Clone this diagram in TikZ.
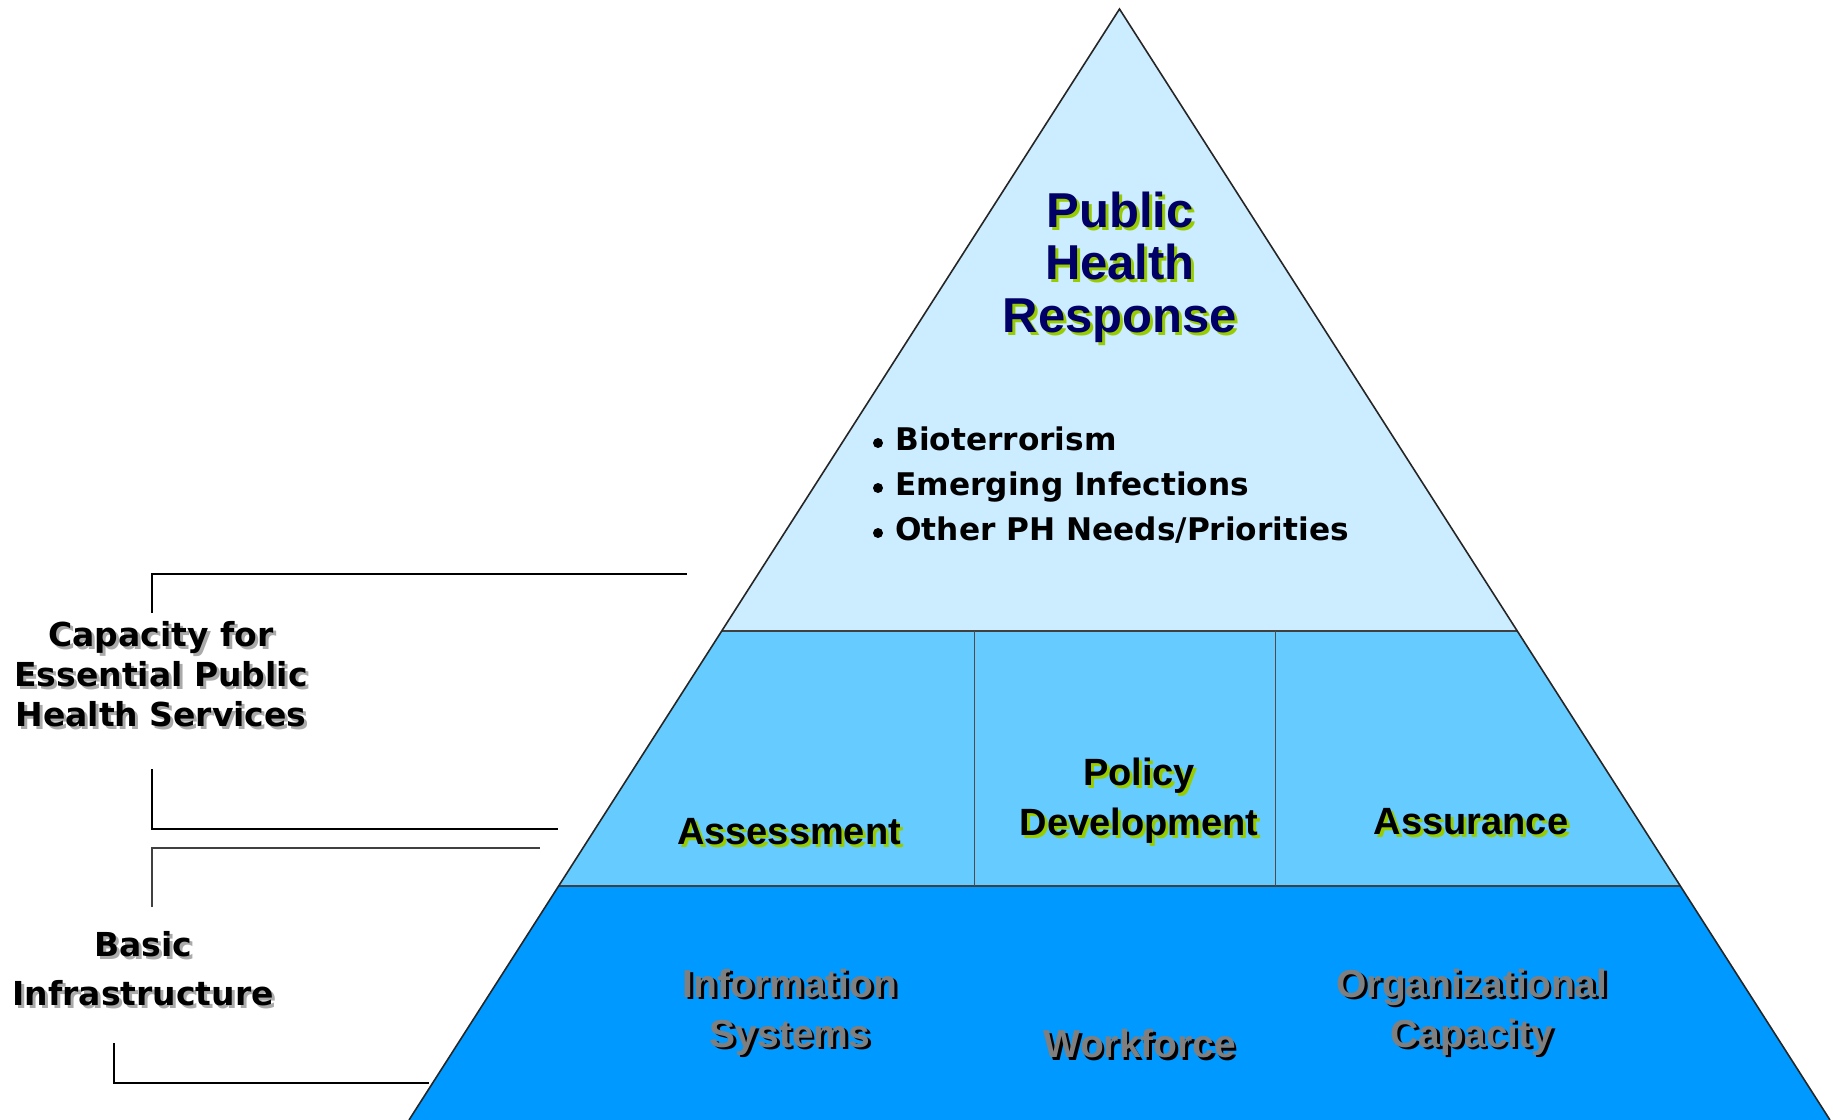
\documentclass[tikz,border=0pt]{standalone}
\usepackage{fontspec}
\setmainfont{Liberation Sans}
\newfontfamily\verd{DejaVu Sans}
\definecolor{topband}{HTML}{CCECFF}
\definecolor{midband}{HTML}{66CCFF}
\definecolor{botband}{HTML}{0099FF}
\definecolor{navy}{HTML}{000066}
\definecolor{limeshadow}{HTML}{99CC00}
\definecolor{graytext}{HTML}{7F7F7F}
\definecolor{grayshadow}{HTML}{AAAAAA}
\begin{document}
\begin{tikzpicture}[x=0.5pt,y=-0.5pt,
  edge/.style={draw=black!85,line width=0.8pt},
  sepline/.style={draw=black!75,line width=0.7pt},
  divline/.style={draw=black!70,line width=0.5pt},
  bracket/.style={draw=black,line width=1.1pt},
  titletext/.style={font=\bfseries\fontsize{24.5}{26.3}\selectfont,align=center,inner sep=0pt},
  midtext/.style={font=\bfseries\fontsize{19}{25}\selectfont,align=center,inner sep=0pt},
  bottext/.style={font=\bfseries\fontsize{19.5}{25}\selectfont,align=center,inner sep=0pt},
  sidetext/.style={font=\verd\bfseries\fontsize{16.5}{20}\selectfont,align=center,inner sep=0pt},
  sidetextb/.style={font=\verd\bfseries\fontsize{16.5}{24.5}\selectfont,align=center,inner sep=0pt},
  bultext/.style={font=\verd\bfseries\fontsize{15.6}{18}\selectfont,anchor=base west,inner sep=0pt},
  bulletdot/.style={circle,fill=black,inner sep=0pt,minimum size=5pt},
  shgreen/.style={text=limeshadow,xshift=1.5pt,yshift=-1.5pt},
  shblack/.style={text=black,xshift=1.3pt,yshift=-1.3pt},
  shgray/.style={text=grayshadow,xshift=1.5pt,yshift=-1.5pt}
]
\useasboundingbox (0,0) rectangle (1833,1120);
\clip (0,0) rectangle (1833,1120);
% pyramid geometry
\coordinate (apex) at (1119.5,9);
\coordinate (t1l) at (721.7,631);
\coordinate (t1r) at (1517.3,631);
\coordinate (t2l) at (558.7,886);
\coordinate (t2r) at (1680.3,886);
\coordinate (bl) at (409,1120);
\coordinate (br) at (1830,1120);
\coordinate (d1t) at (974,631);
\coordinate (d1b) at (974,886);
\coordinate (d2t) at (1275.5,631);
\coordinate (d2b) at (1275.5,886);
\fill[topband] (apex) -- (t1r) -- (t1l) -- cycle;
\fill[midband] (t1l) -- (t1r) -- (t2r) -- (t2l) -- cycle;
\fill[botband] (t2l) -- (t2r) -- (br) -- (bl) -- cycle;
\draw[sepline] (t1l) -- (t1r);
\draw[sepline] (t2l) -- (t2r);
\draw[divline] (d1t) -- (d1b);
\draw[divline] (d2t) -- (d2b);
\draw[edge] (bl) -- (apex) -- (br);
% title
\node[titletext,shgreen] (titles) at (1120,267) {Public\\Health\\Response};
\node[titletext,text=navy] (title) at (1120,267) {Public\\Health\\Response};
% bullets
\node[bulletdot] (b1dot) at (878,443) {};
\node[bulletdot] (b2dot) at (878,488) {};
\node[bulletdot] (b3dot) at (878,533) {};
\node[bultext] (b1) at (895,450) {Bioterrorism};
\node[bultext] (b2) at (895,495) {Emerging Infections};
\node[bultext] (b3) at (895,540) {Other PH Needs/Priorities};
% middle band
\node[midtext,shgreen] (asss) at (789,832) {Assessment};
\node[midtext] (ass) at (789,832) {Assessment};
\node[midtext,shgreen] (pols) at (1139,801) {Policy\\Development};
\node[midtext] (pol) at (1139,801) {Policy\\Development};
\node[midtext,shgreen] (asus) at (1471,822) {Assurance};
\node[midtext] (asu) at (1471,822) {Assurance};
% bottom band
\node[bottext,shblack] (infs) at (790,1012) {Information\\Systems};
\node[bottext,text=graytext] (inf) at (790,1012) {Information\\Systems};
\node[bottext,shblack] (works) at (1140,1044) {Workforce};
\node[bottext,text=graytext] (work) at (1140,1044) {Workforce};
\node[bottext,shblack] (orgs) at (1472,1012) {Organizational\\Capacity};
\node[bottext,text=graytext] (org) at (1472,1012) {Organizational\\Capacity};
% side labels
\node[sidetext,shgray] (caps) at (161,674) {Capacity for\\Essential Public\\Health Services};
\node[sidetext] (cap) at (161,674) {Capacity for\\Essential Public\\Health Services};
\node[sidetextb,shgray] (bass) at (143,969) {Basic\\Infrastructure};
\node[sidetextb] (bas) at (143,969) {Basic\\Infrastructure};
% brackets
\coordinate (k1a) at (152,613);
\coordinate (k1b) at (687,574);
\coordinate (k2a) at (152,769);
\coordinate (k2b) at (558,829);
\coordinate (k3a) at (152,907);
\coordinate (k3b) at (540,848);
\coordinate (k4a) at (114,1043);
\coordinate (k4b) at (429,1083);
\draw[bracket] (k1a) |- (k1b);
\draw[bracket] (k2a) |- (k2b);
\draw[bracket,draw=black!75] (k3a) |- (k3b);
\draw[bracket] (k4a) |- (k4b);
\end{tikzpicture}
\end{document}
